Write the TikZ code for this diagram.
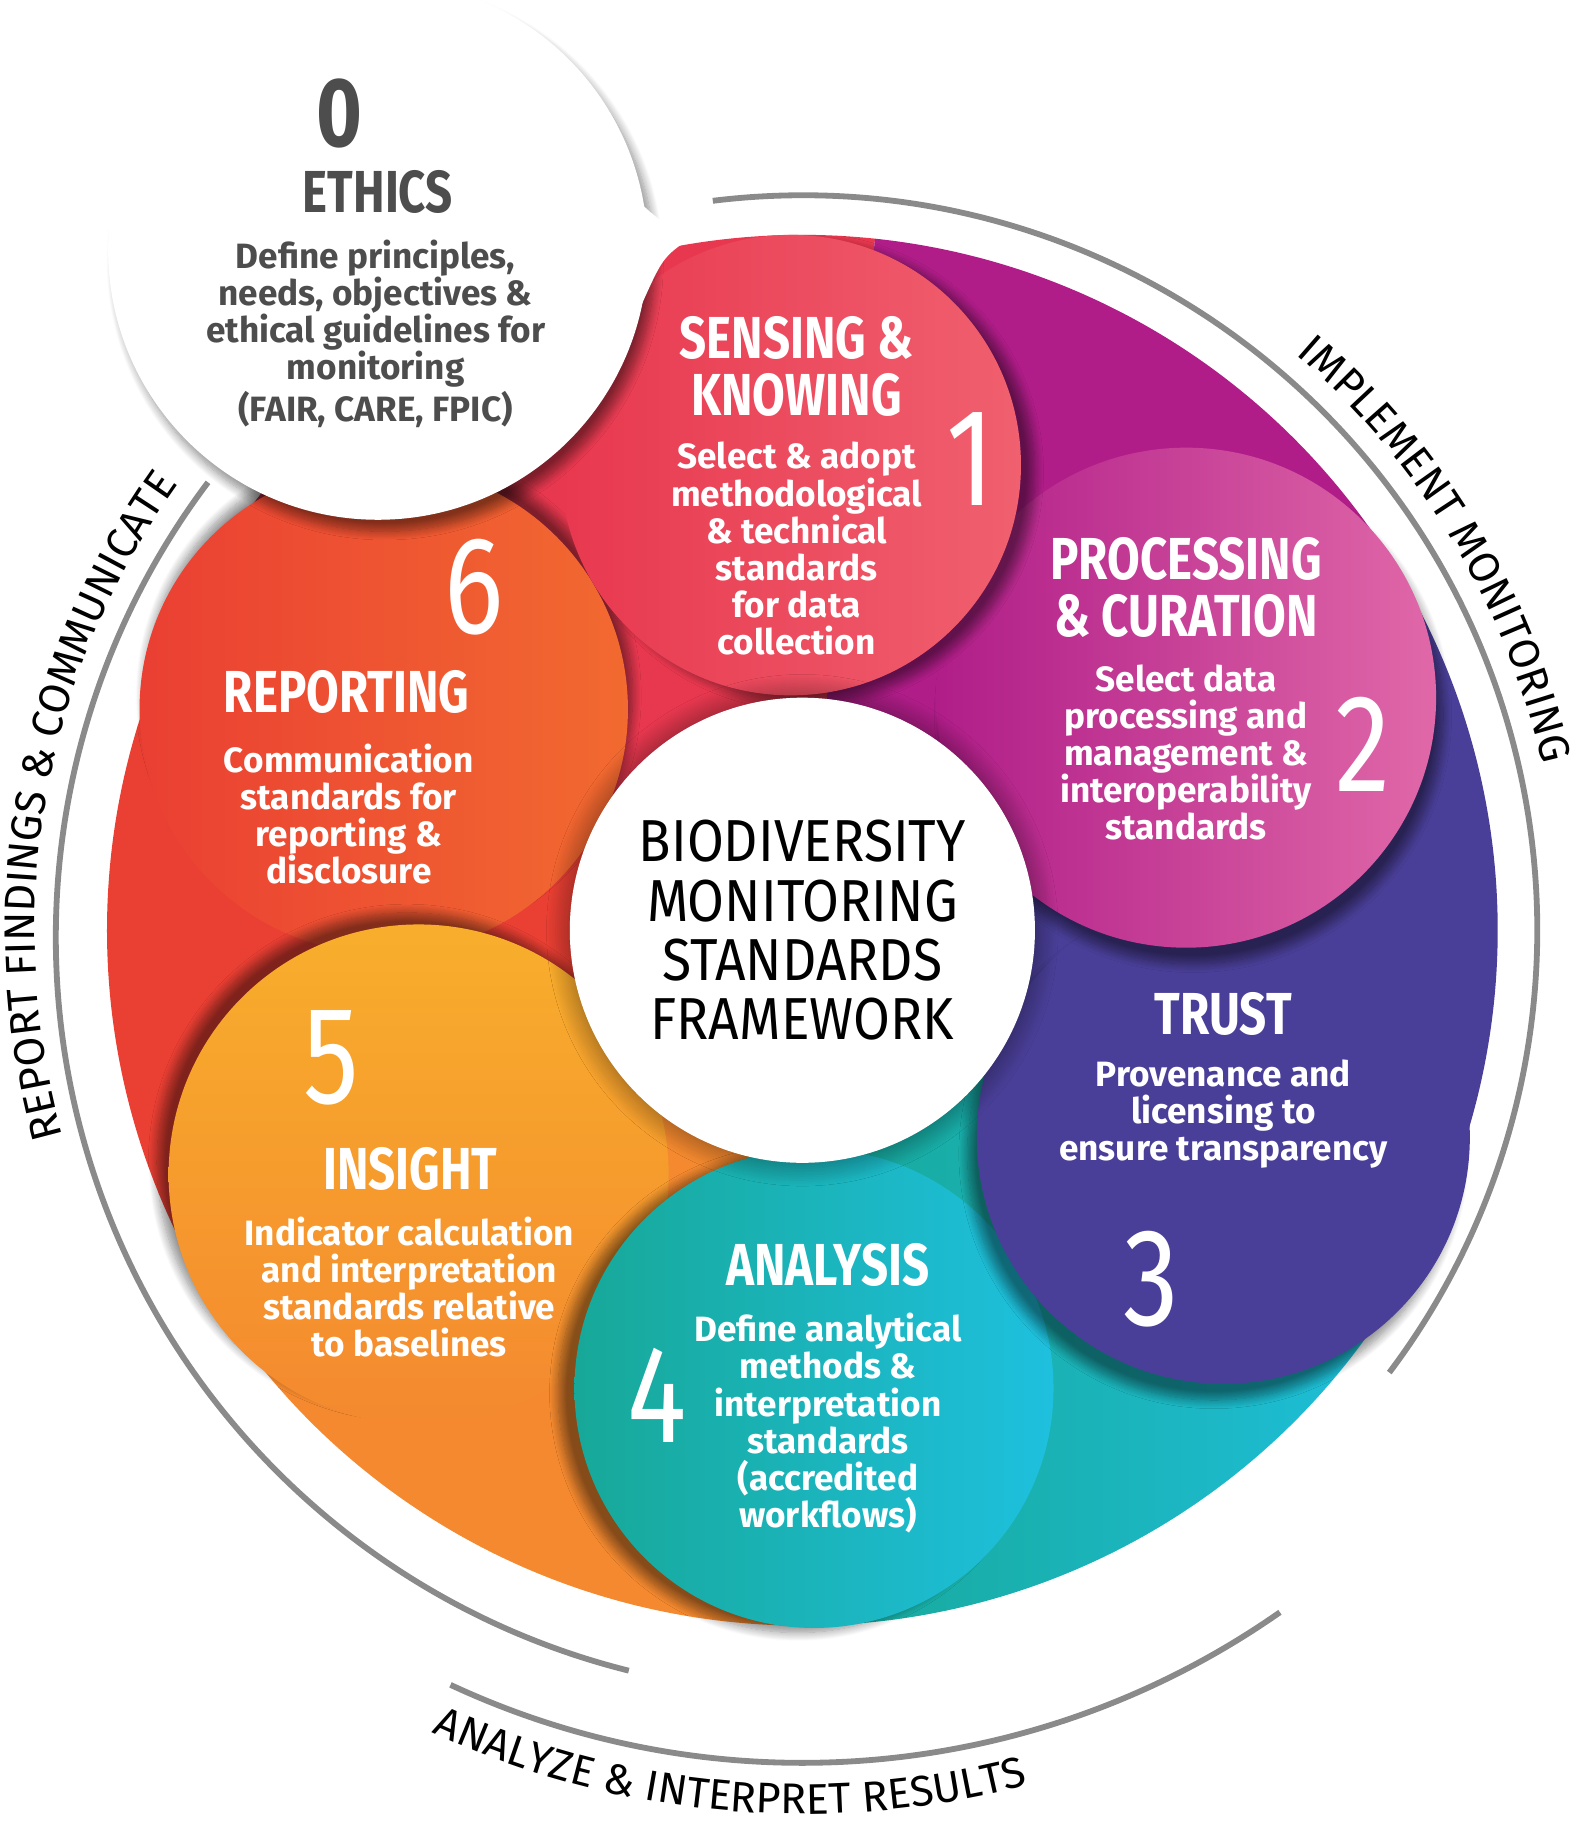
\documentclass[tikz,border=0pt]{standalone}
\usepackage{fontspec}
\setmainfont{Fira Sans}
\newfontfamily\cond[FakeStretch=0.8]{Fira Sans}
\newfontfamily\condc[FakeStretch=0.9]{Fira Sans}
\newfontfamily\condb[FakeStretch=0.8]{Fira Sans Bold}
\usetikzlibrary{shadows.blur,decorations.text}
\definecolor{cRed}{HTML}{E8384F}
\definecolor{cRedL}{HTML}{F0606F}
\definecolor{cMag}{HTML}{B01D88}
\definecolor{cMagL}{HTML}{E068A8}
\definecolor{cPur}{HTML}{4A3F98}
\definecolor{cTeal}{HTML}{17A898}
\definecolor{cCyan}{HTML}{1EC0DE}
\definecolor{cOrY}{HTML}{F8AE2C}
\definecolor{cOrD}{HTML}{F4892F}
\definecolor{cOr6}{HTML}{F26A30}
\definecolor{cRO}{HTML}{EA3F33}
\definecolor{cGrey}{HTML}{4D4D4D}
\definecolor{cArc}{HTML}{8A8A8A}
\tikzset{
  head/.style={align=center,text=white,font=\condb\fontsize{14.5}{14}\selectfont},
  body/.style={align=center,text=white,font=\bfseries\fontsize{8.6}{9.1}\selectfont},
  num/.style={text=white,font=\cond\fontsize{34}{34}\selectfont},
  arcl/.style={draw=cArc,line width=0.5mm},
}
\begin{document}
\begin{tikzpicture}[x=0.1mm,y=0.1mm]
\useasboundingbox (0,0) rectangle (1360,1566);
\coordinate (C) at (690,766);
% background sectors (tails of the lobes)
\fill[cRed] (C) -- ++(84:598) arc[start angle=84,end angle=152,radius=598] -- cycle;
\fill[cMag] (C) -- ++(31:598) arc[start angle=31,end angle=84,radius=598] -- cycle;
\fill[cPur] (C) -- ++(-26:598) arc[start angle=-26,end angle=31,radius=598] -- cycle;
\shade[left color=cTeal,right color=cCyan] (C) -- ++(-89:598) arc[start angle=-89,end angle=-26,radius=598] -- cycle;
\fill[cOrD] (C) -- ++(-148:598) arc[start angle=-148,end angle=-89,radius=598] -- cycle;
\fill[cRO] (C) -- ++(152:598) arc[start angle=152,end angle=212,radius=598] -- cycle;
% lobes
\shade[left color=cRO,right color=cOr6,blur shadow={shadow xshift=0.4mm,shadow yshift=1.2mm,shadow blur steps=12,shadow opacity=45}] (330,956) circle[radius=210];
\shade[top color=cOrY,bottom color=cOrD,blur shadow={shadow xshift=-1mm,shadow yshift=1mm,shadow blur steps=12,shadow opacity=45}] (360,556) circle[radius=215];
\shade[left color=cTeal,right color=cCyan,blur shadow={shadow xshift=-1.4mm,shadow yshift=-0.4mm,shadow blur steps=12,shadow opacity=45}] (700,372) circle[radius=206];
\fill[cPur,blur shadow={shadow xshift=-0.8mm,shadow yshift=-1.4mm,shadow blur steps=12,shadow opacity=45}] (1052,588) circle[radius=212];
\shade[left color=cMag,right color=cMagL,blur shadow={shadow xshift=0.6mm,shadow yshift=-1.4mm,shadow blur steps=12,shadow opacity=45}] (1020,966) circle[radius=215];
\shade[left color=cRed,right color=cRedL,blur shadow={shadow xshift=1.2mm,shadow yshift=-0.6mm,shadow blur steps=12,shadow opacity=45}] (680,1166) circle[radius=198];
% center
\fill[white,blur shadow={shadow xshift=0mm,shadow yshift=0mm,shadow blur radius=2mm,shadow blur steps=14,shadow opacity=50}] (C) circle[radius=200];
% ethics bubble
\fill[white,blur shadow={shadow xshift=0.6mm,shadow yshift=-1mm,shadow blur steps=12,shadow opacity=45}] (325,1351) circle[radius=232];
\fill[white] (441,1552) .. controls (490,1500) and (520,1390) .. (595,1362) .. controls (570,1345) .. (550,1300) -- (500,1300) -- cycle;
% outer arcs
\draw[arcl] (C) ++(97:632) arc[start angle=97,end angle=-37,radius=632];
\draw[arcl] (C) ++(143:640) arc[start angle=143,end angle=256,radius=650];
\draw[arcl] (C) ++(-55:716) arc[start angle=-55,end angle=-115,radius=716];
\path[decorate,decoration={text along path,text align=center,text={|\fontsize{10.5}{11}\selectfont|IMPLEMENT MONITORING}}] (C) ++(54:652) arc[start angle=54,end angle=8,radius=652];
\path[decorate,decoration={text along path,text align=center,text={|\fontsize{10.5}{11}\selectfont|REPORT FINDINGS {\&} COMMUNICATE}}] (C) ++(200:660) arc[start angle=200,end angle=140,radius=660];
\path[decorate,decoration={text along path,text align=center,text={|\fontsize{10.5}{11}\selectfont|ANALYZE {\&} INTERPRET RESULTS}}] (C) ++(240:760) arc[start angle=240,end angle=290,radius=760];
% texts
\node[text=cGrey,font=\cond\bfseries\fontsize{24}{24}\selectfont] (n0) at (292,1468) {0};
\node[head,text=cGrey] (h0) at (325,1401) {ETHICS};
\node[body,text=cGrey] (b0) at (323,1279) {Define principles,\\needs, objectives \&\\ethical guidelines for\\monitoring\\(FAIR, CARE, FPIC)};
\node[head] (h1) at (685,1251) {SENSING \&\\KNOWING};
\node[body] (b1) at (685,1094) {Select \& adopt\\methodological\\\& technical\\standards\\for data\\collection};
\node[num] (n1) at (835,1171) {1};
\node[head] (h2) at (1020,1061) {PROCESSING\\\& CURATION};
\node[body] (b2) at (1020,919) {Select data\\processing and\\management \&\\interoperability\\standards};
\node[num] (n2) at (1172,926) {2};
\node[head] (h3) at (1052,694) {TRUST};
\node[body] (b3) at (1052,608) {Provenance and\\licensing to\\ensure transparency};
\node[num] (n3) at (990,466) {3};
\node[head] (h4) at (712,478) {ANALYSIS};
\node[body] (b4) at (712,342) {Define analytical\\methods \&\\interpretation\\standards\\(accredited\\workflows)};
\node[num] (n4) at (565,366) {4};
\node[num] (n5) at (285,656) {5};
\node[head] (h5) at (353,561) {INSIGHT};
\node[body] (b5) at (352,459) {Indicator calculation\\and interpretation\\standards relative\\to baselines};
\node[num] (n6) at (408,1061) {6};
\node[head] (h6) at (298,971) {REPORTING};
\node[body] (b6) at (300,866) {Communication\\standards for\\reporting \&\\disclosure};
\node[align=center,font=\condc\fontsize{14.5}{14.5}\selectfont] (ct) at (C) {BIODIVERSITY\\MONITORING\\STANDARDS\\FRAMEWORK};
\end{tikzpicture}
\end{document}
